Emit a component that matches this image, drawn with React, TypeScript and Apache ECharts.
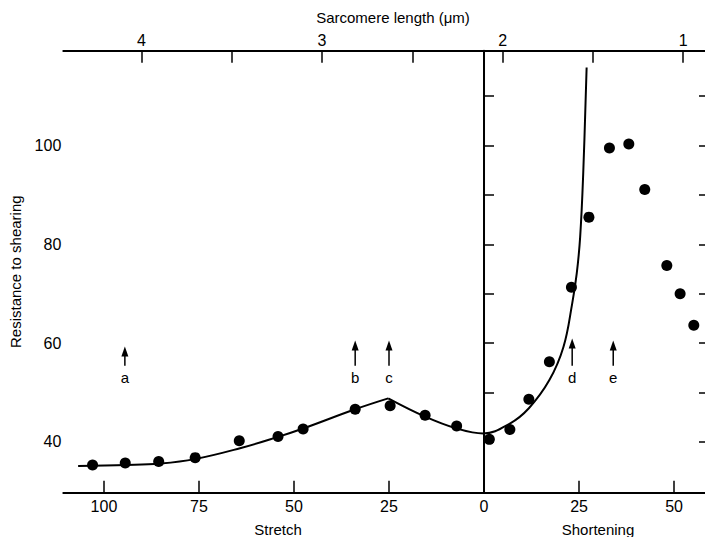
import React, { useEffect, useRef } from "react";
import * as echarts from "echarts";

// ---- axis ranges (bottom: stretch negative, shortening positive) ----
const X_MIN = -110.7;
const X_MAX = 59.2;
const Y_MIN = 29.7;
const Y_MAX = 119.2;
const TOP_MIN = 0.857; // sarcomere length (µm), axis inverted
const TOP_MAX = 4.433;

// ---- tick values ----
const bottomTicks = [-100, -75, -50, -25, 0, 25, 50];
const topTicks = [1, 1.5, 2, 2.5, 3, 3.5, 4];
const topLabels = [1, 2, 3, 4];
const yTicks = [40, 50, 60, 70, 80, 90, 100, 110];
const yLabels = [40, 60, 80, 100];

// ---- measured points ----
const dotX = [-103.0, -94.4, -85.6, -76.0, -64.4, -54.2, -47.6, -33.9, -24.7, -15.5, -7.2, 1.4, 6.8, 11.8, 17.2, 23.0, 27.6, 33.0, 38.1, 42.3, 48.1, 51.6, 55.2];
const dotY = [35.3, 35.7, 36.0, 36.8, 40.2, 41.1, 42.6, 46.6, 47.3, 45.4, 43.2, 40.5, 42.5, 48.6, 56.2, 71.3, 85.5, 99.5, 100.3, 91.1, 75.7, 70.0, 63.6];

// ---- fitted curve, two branches meeting at the peak ----
const curveStretchX = [-106.8, -94.0, -85.3, -76.1, -64.2, -54.6, -47.6, -33.9, -25.2];
const curveStretchY = [35.1, 35.3, 35.6, 36.5, 38.7, 40.9, 42.7, 46.6, 48.8];
const curveShortX = [-25.2, -15.5, -7.2, -0.2, 6.8, 11.8, 17.2, 20.9, 23.2, 24.4, 25.3, 26.1, 27.0];
const curveShortY = [48.8, 45.1, 42.7, 41.7, 43.7, 46.8, 52.5, 59.2, 68.0, 74.1, 81.5, 94.3, 115.8];

// ---- arrows a–e ----
const arrowX = [-94.5, -33.9, -25.0, 23.2, 34.0];
const arrowTipY = [59.3, 60.5, 60.5, 60.9, 60.5];
const arrowTailY = [55.4, 55.4, 55.4, 55.4, 55.4];
const arrowLabelY = 53.1;
const arrowLabels = ["a", "b", "c", "d", "e"];

const FONT = "'Liberation Sans', Arial, Helvetica, sans-serif";
const INK = "#000";

export default function App() {
  const ref = useRef<HTMLDivElement>(null);

  useEffect(() => {
    if (!ref.current) return;
    const chart = echarts.init(ref.current, null, { renderer: "svg" });

    const axisCommon = {
      type: "value" as const,
      splitLine: { show: false },
      axisLine: { show: true, lineStyle: { color: INK, width: 2 } },
    };

    const option: any = {
      animation: false,
      backgroundColor: "#fff",
      textStyle: { fontFamily: FONT },
      grid: {
        left: 63.3,
        right: -4,
        top: 50.7,
        bottom: 44.3,
        containLabel: false,
        outerBoundsMode: "none",
      },
      xAxis: [
        {
          ...axisCommon,
          position: "bottom",
          min: X_MIN,
          max: X_MAX,
          axisTick: { show: true, inside: true, length: 12, customValues: bottomTicks, lineStyle: { color: INK, width: 1.5 } },
          axisLabel: {
            show: true,
            customValues: bottomTicks,
            formatter: (v: number) => String(Math.abs(v)),
            fontSize: 16,
            color: INK,
            margin: 6,
            fontFamily: FONT,
          },
        },
        {
          ...axisCommon,
          position: "top",
          inverse: true,
          min: TOP_MIN,
          max: TOP_MAX,
          axisTick: { show: true, inside: true, length: 12, customValues: topTicks, lineStyle: { color: INK, width: 1.5 } },
          axisLabel: {
            show: true,
            customValues: topLabels,
            fontSize: 16,
            color: INK,
            margin: 2,
            fontFamily: FONT,
          },
        },
      ],
      yAxis: [
        {
          ...axisCommon,
          position: "left",
          min: Y_MIN,
          max: Y_MAX,
          name: "Resistance to shearing",
          nameLocation: "middle",
          nameGap: 40,
          nameTextStyle: { fontSize: 15, color: INK, fontFamily: FONT },
          axisTick: { show: true, inside: true, length: 10, customValues: yTicks, lineStyle: { color: INK, width: 1.5 } },
          axisLabel: {
            show: true,
            customValues: yLabels,
            fontSize: 16,
            color: INK,
            margin: 2,
            fontFamily: FONT,
          },
        },
        {
          ...axisCommon,
          position: "right",
          min: Y_MIN,
          max: Y_MAX,
          axisTick: { show: true, inside: true, length: 10, customValues: yTicks, lineStyle: { color: INK, width: 1.5 } },
          axisLabel: { show: false },
        },
      ],
      graphic: [
        {
          type: "text",
          x: 393,
          y: 17,
          style: { text: "Sarcomere length (μm)", fontSize: 15, fill: INK, align: "center", verticalAlign: "middle", fontFamily: FONT },
        },
        {
          type: "text",
          x: 278,
          y: 529,
          style: { text: "Stretch", fontSize: 15, fill: INK, align: "center", verticalAlign: "middle", fontFamily: FONT },
        },
        {
          type: "text",
          x: 598,
          y: 529,
          style: { text: "Shortening", fontSize: 15, fill: INK, align: "center", verticalAlign: "middle", fontFamily: FONT },
        },
      ],
      series: [
        {
          name: "zero",
          type: "line",
          xAxisIndex: 0,
          yAxisIndex: 0,
          data: [
            [0, Y_MIN],
            [0, Y_MAX],
          ],
          showSymbol: false,
          symbol: "none",
          lineStyle: { color: INK, width: 2 },
          silent: true,
        },
        {
          name: "curve stretch",
          type: "line",
          xAxisIndex: 0,
          yAxisIndex: 0,
          data: curveStretchX.map((x, i) => [x, curveStretchY[i]]),
          smooth: 0.4,
          symbol: "none",
          lineStyle: { color: INK, width: 2 },
        },
        {
          name: "curve shortening",
          type: "line",
          xAxisIndex: 0,
          yAxisIndex: 0,
          data: curveShortX.map((x, i) => [x, curveShortY[i]]),
          smooth: 0.4,
          symbol: "none",
          lineStyle: { color: INK, width: 2 },
        },
        {
          name: "measured",
          type: "scatter",
          xAxisIndex: 0,
          yAxisIndex: 0,
          data: dotX.map((x, i) => [x, dotY[i]]),
          symbol: "circle",
          symbolSize: 11,
          itemStyle: { color: INK, opacity: 1 },
        },
        {
          name: "arrows",
          type: "custom",
          xAxisIndex: 0,
          yAxisIndex: 0,
          data: arrowX.map((x, i) => [x, arrowTipY[i], arrowTailY[i], arrowLabelY]),
          renderItem: (params: any, api: any) => {
            const x = api.value(0);
            const tip = api.coord([x, api.value(1)]);
            const tail = api.coord([x, api.value(2)]);
            const lab = api.coord([x, api.value(3)]);
            const headH = 10;
            const headW = 7;
            return {
              type: "group",
              children: [
                {
                  type: "line",
                  shape: { x1: tail[0], y1: tail[1], x2: tip[0], y2: tip[1] + headH - 1 },
                  style: { stroke: INK, lineWidth: 1.5 },
                },
                {
                  type: "polygon",
                  shape: {
                    points: [
                      [tip[0], tip[1]],
                      [tip[0] - headW / 2, tip[1] + headH],
                      [tip[0] + headW / 2, tip[1] + headH],
                    ],
                  },
                  style: { fill: INK },
                },
                {
                  type: "text",
                  x: lab[0],
                  y: lab[1],
                  style: {
                    text: arrowLabels[params.dataIndex],
                    fontSize: 15,
                    fill: INK,
                    align: "center",
                    verticalAlign: "middle",
                    fontFamily: FONT,
                  },
                },
              ],
            };
          },
        },
      ],
    };

    chart.setOption(option);
    return () => chart.dispose();
  }, []);

  return (
    <div
      ref={ref}
      style={{ position: "absolute", left: 0, top: 0, width: 705, height: 537, background: "#fff" }}
    />
  );
}
